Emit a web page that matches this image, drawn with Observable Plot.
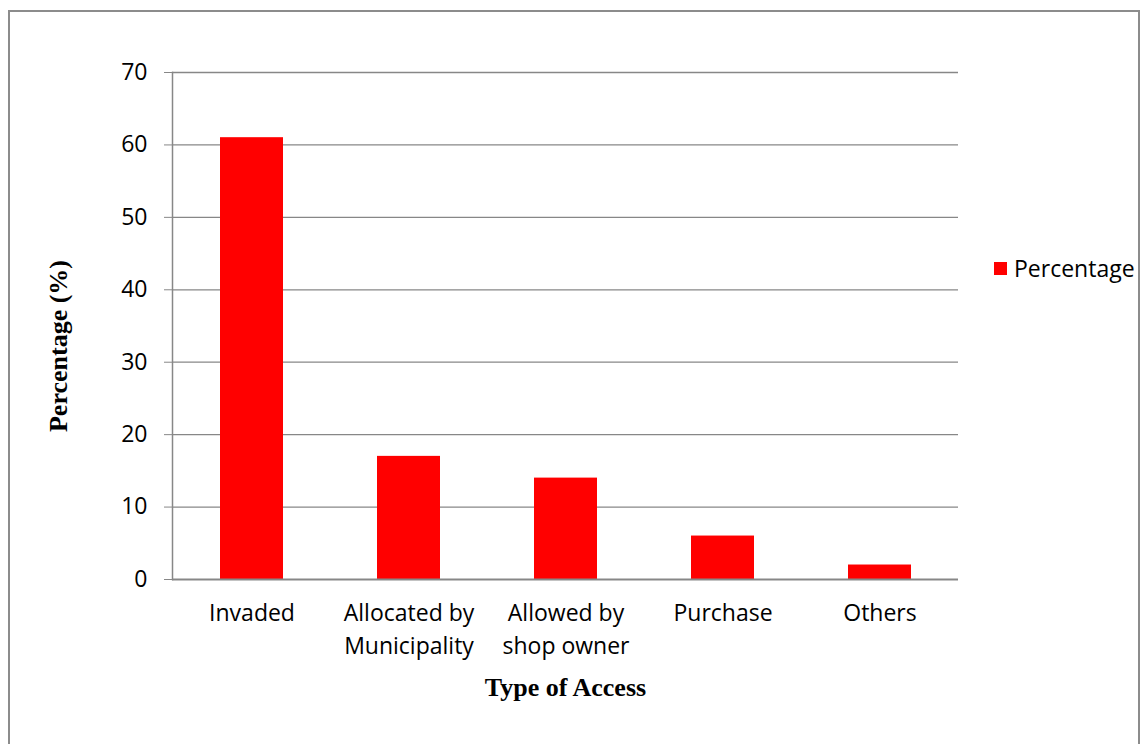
<!DOCTYPE html>
<html>
<head>
<meta charset="utf-8">
<script src="https://cdn.jsdelivr.net/npm/d3@7"></script>
<script src="https://cdn.jsdelivr.net/npm/@observablehq/plot@0.6"></script>
<style>
  html, body { margin: 0; padding: 0; background: #fff; width: 1144px; height: 744px; overflow: hidden; }
  #wrap { position: relative; width: 1144px; height: 744px; }
  #border { position: absolute; left: 8px; top: 10px; width: 1132px; height: 800px; border: 2px solid #8c8c8c; box-sizing: border-box; pointer-events: none; }
  #chart { position: absolute; left: 0; top: 0; }
  #legend { position: absolute; left: 994px; top: 252px; font: 23px "Open Sans", sans-serif; color: #000; display: flex; align-items: center; }
  #legend .sw { width: 13px; height: 13px; background: #ff0000; margin-right: 7px; }
</style>
</head>
<body>
<div id="wrap">
  <div id="chart"></div>
  <div id="border"></div>
  <div id="legend"><div class="sw"></div><span id="legend-label"></span></div>
</div>
<script>
const categories = ["Invaded", "Allocated by\nMunicipality", "Allowed by\nshop owner", "Purchase", "Others"];
const values = [61, 17, 14, 6, 2];
const yTicks = [0, 10, 20, 30, 40, 50, 60, 70];
const seriesName = "Percentage";
const yTitle = "Percentage (%)";
const xTitle = "Type of Access";

const data = categories.map((c, i) => ({category: c, value: values[i]}));
document.getElementById("legend-label").textContent = seriesName;

const grid = "#878787";
const chart = Plot.plot({
  width: 1144,
  height: 744,
  marginLeft: 172,
  marginRight: 186,
  marginTop: 72,
  marginBottom: 165,
  style: {fontFamily: "'Open Sans', sans-serif", fontSize: "23px", color: "#000", background: "transparent"},
  x: {domain: categories, paddingInner: 0.6, paddingOuter: 0.3, label: null},
  y: {domain: [0, 70], label: null},
  marks: [
    Plot.ruleY(yTicks.filter(d => d !== 0), {y: d => d, stroke: grid, strokeWidth: 1.3}),
    Plot.barY(data, {x: "category", y: "value", fill: "#ff0000"}),
    Plot.ruleY([0], {stroke: grid, strokeWidth: 2}),
    Plot.frame({anchor: "left", stroke: grid, strokeWidth: 1.5}),
    Plot.axisY({ticks: yTicks, tickSize: 8, tickPadding: 17, stroke: grid, fill: "#000", fontSize: 23, label: null}),
    Plot.axisX({tickSize: 0, tickPadding: 18, fontSize: 23, lineHeight: 1.43, fill: "#000", label: null}),
    Plot.text([yTitle], {frameAnchor: "left", textAnchor: "middle", dx: -114, dy: 20, rotate: -90, fontFamily: "'Liberation Serif', serif", fontWeight: "bold", fontSize: 26, fill: "#000"}),
    Plot.text([xTitle], {frameAnchor: "bottom", textAnchor: "middle", dy: 108, lineAnchor: "middle", fontFamily: "'Liberation Serif', serif", fontWeight: "bold", fontSize: 26, fill: "#000"})
  ]
});
document.getElementById("chart").appendChild(chart);
</script>
</body>
</html>
